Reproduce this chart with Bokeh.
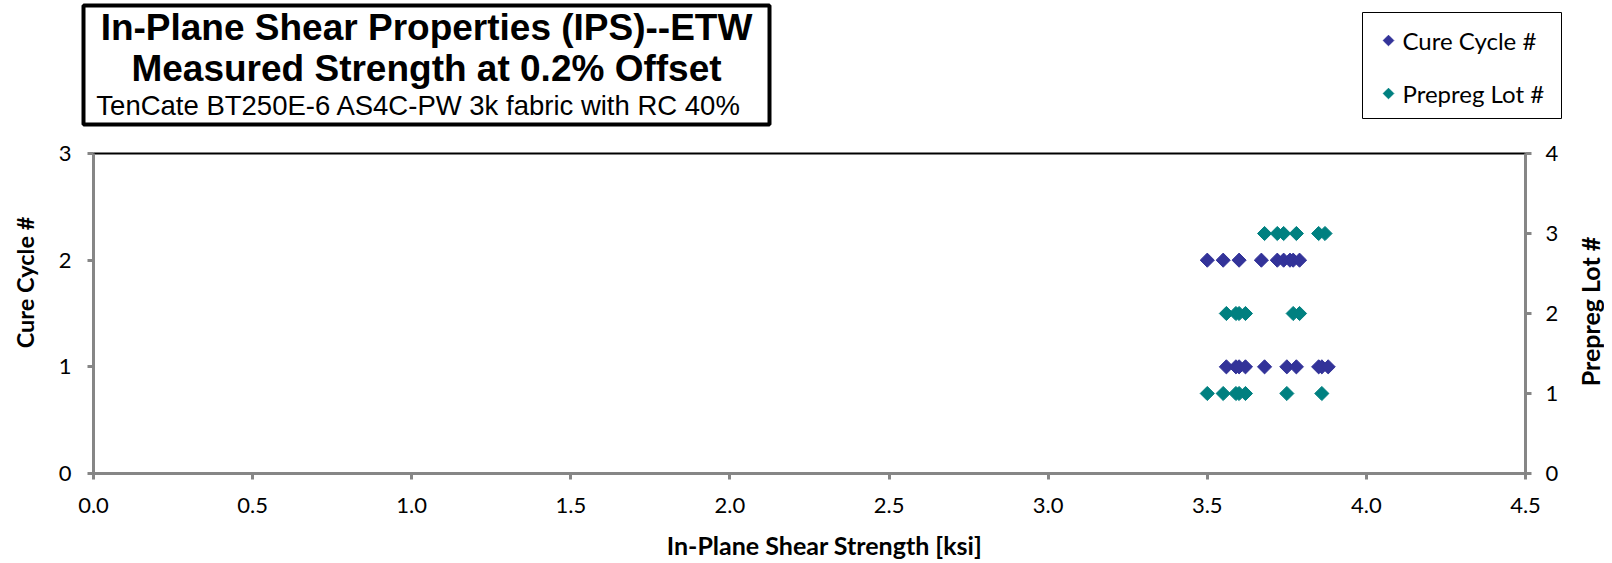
import math
from bokeh.plotting import figure
from bokeh.layouts import column, row
from bokeh.models import (Range1d, LinearAxis, FixedTicker, NumeralTickFormatter,
                          Label, BoxAnnotation)
from bokeh.embed import file_html
from bokeh.resources import INLINE

# ---- data ----
cure_x = [3.50, 3.55, 3.60, 3.67, 3.72, 3.74, 3.76, 3.77, 3.79,
          3.56, 3.59, 3.60, 3.62, 3.68, 3.75, 3.78, 3.85, 3.86, 3.88]
cure_y = [2, 2, 2, 2, 2, 2, 2, 2, 2,
          1, 1, 1, 1, 1, 1, 1, 1, 1, 1]
lot_x = [3.68, 3.72, 3.74, 3.78, 3.85, 3.87,
         3.56, 3.59, 3.60, 3.62, 3.77, 3.79,
         3.50, 3.55, 3.59, 3.60, 3.62, 3.75, 3.86]
lot_y = [3, 3, 3, 3, 3, 3,
         2, 2, 2, 2, 2, 2,
         1, 1, 1, 1, 1, 1, 1]
x_ticks = [0.0, 0.5, 1.0, 1.5, 2.0, 2.5, 3.0, 3.5, 4.0, 4.5]
left_ticks = [0, 1, 2, 3]
right_ticks = [0, 1, 2, 3, 4]

title1 = "In-Plane Shear Properties (IPS)--ETW"
title2 = "Measured Strength at 0.2% Offset"
title3 = "TenCate  BT250E-6 AS4C-PW 3k fabric with  RC 40%"
x_label = "In-Plane Shear Strength [ksi]"
y_label = "Cure Cycle #"
y2_label = "Prepreg Lot #"
series_names = ["Cure Cycle #", "Prepreg Lot #"]
series_colors = ["#333399", "#008080"]

GREY = "#868686"
FONT = "Lato"


def strip(width, height):
    f = figure(width=width, height=height, output_backend="svg", toolbar_location=None,
               x_range=Range1d(0, width), y_range=Range1d(0, height),
               min_border=0, outline_line_color=None)
    f.axis.visible = False
    f.grid.visible = False
    return f


def box(fig, l, r, t, b, lw, level="annotation"):
    fig.add_layout(BoxAnnotation(left=l, right=r, bottom=fig.height - b, top=fig.height - t,
                                 left_units="screen", right_units="screen",
                                 bottom_units="screen", top_units="screen",
                                 fill_color="white", fill_alpha=1.0, level=level,
                                 line_color="black", line_alpha=1.0, line_width=lw))


# ---------------- top strip: title box + legend ----------------
TOP_H = 140
top = strip(1604, TOP_H)
box(top, 83, 769, 5, 124, 4)
for txt, yy, size, style in [(title1, 27, "37px", "bold"),
                             (title2, 68, "37px", "bold"),
                             (title3, 105, "27.5px", "normal")]:
    top.add_layout(Label(x=426, y=TOP_H - yy, x_units="screen", y_units="screen",
                         text=txt, text_font="Liberation Sans", text_font_style=style,
                         text_font_size=size, text_align="center",
                         text_baseline="middle", text_color="black"))

# legend (drawn by hand so that its keys are diamonds like the chart's markers)
box(top, 1362, 1561, 12, 118, 1, level="underlay")
leg_rows = [40, 93]          # legend row centres, px from the top of the strip
top.scatter([1388] * 2, [TOP_H - y for y in leg_rows], marker="square", size=7.5,
            angle=math.pi / 4, fill_color=series_colors, line_color=series_colors)
for name, y in zip(series_names, leg_rows):
    top.add_layout(Label(x=1402, y=TOP_H - y, x_units="screen", y_units="screen",
                         text=name, text_font=FONT, text_font_size="24px",
                         text_baseline="middle", text_color="black"))

# ---------------- main chart ----------------
MAIN_H = 387
LEFT_W = 45
p = figure(width=1530, height=MAIN_H, output_backend="svg", toolbar_location=None,
           x_range=Range1d(0, 4.5), y_range=Range1d(0, 3),
           min_border_left=48, min_border_right=50,
           min_border_top=13, min_border_bottom=54)
p.extra_y_ranges = {"lot": Range1d(0, 4)}
p.grid.visible = False
p.outline_line_color = "black"
p.outline_line_width = 2

p.scatter(cure_x, cure_y, marker="square", size=10, angle=math.pi / 4,
          fill_color=series_colors[0], line_color=series_colors[0])
p.scatter(lot_x, lot_y, marker="square", size=10, angle=math.pi / 4,
          fill_color=series_colors[1], line_color=series_colors[1], y_range_name="lot")

right = LinearAxis(y_range_name="lot")
p.add_layout(right, "right")

for ax in [p.xaxis[0], p.yaxis[0], right]:
    ax.axis_line_color = GREY
    ax.axis_line_width = 3
    ax.major_tick_line_color = GREY
    ax.major_tick_line_width = 3
    ax.major_tick_out = 6
    ax.major_tick_in = 0
    ax.minor_tick_line_color = None
    ax.major_label_text_font = FONT
    ax.major_label_text_font_size = "22px"
    ax.major_label_text_color = "black"

p.xaxis[0].ticker = FixedTicker(ticks=x_ticks)
p.xaxis[0].formatter = NumeralTickFormatter(format="0.0")
p.xaxis[0].major_label_standoff = 18
p.yaxis[0].ticker = FixedTicker(ticks=left_ticks)
p.yaxis[0].major_label_standoff = 16
right.ticker = FixedTicker(ticks=right_ticks)
right.major_label_standoff = 14

# ---------------- left / right label strips (frames align with the chart) ----------------
lfig = strip(LEFT_W, MAIN_H)
lfig.add_layout(Label(x=24, y=473 - 282, x_units="screen", y_units="screen",
                      text=y_label, angle=math.pi / 2,
                      text_font=FONT, text_font_style="bold", text_font_size="23.5px",
                      text_align="center", text_baseline="middle", text_color="black"))
rfig = strip(29, MAIN_H)
rfig.add_layout(Label(x=14, y=473 - 311, x_units="screen", y_units="screen",
                      text=y2_label, angle=math.pi / 2,
                      text_font=FONT, text_font_style="bold", text_font_size="25px",
                      text_align="center", text_baseline="middle", text_color="black"))

# ---------------- bottom strip: x-axis title ----------------
BOT_H = 34
bottom = strip(1604, BOT_H)
bottom.add_layout(Label(x=824, y=17, x_units="screen", y_units="screen",
                        text=x_label, text_font=FONT, text_font_style="bold",
                        text_font_size="25px", text_align="center",
                        text_baseline="middle", text_color="black"))

layout = column(top, row(lfig, p, rfig, spacing=0), bottom, spacing=0)
open("out.html", "w").write(file_html(layout, INLINE))
